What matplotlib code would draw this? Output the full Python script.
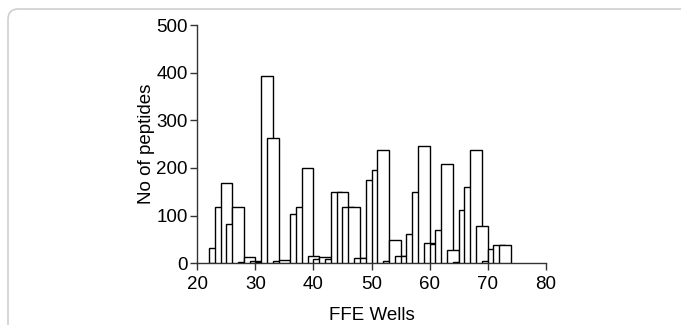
import matplotlib
matplotlib.use("Agg")
import matplotlib.pyplot as plt
from matplotlib.patches import FancyBboxPatch

# bar centre (well) and peptide count, drawn left to right so later bars overlap
wells = [23, 24, 25, 26, 27, 28, 29, 30, 31, 32, 33, 34, 35, 37, 38, 39, 40,
         41, 42, 43, 44, 45, 46, 47, 48, 49, 50, 51, 52, 53, 54, 55, 56, 57,
         58, 59, 60, 61, 62, 63, 64, 65, 66, 67, 68, 69, 70, 71, 72, 73]
counts = [33, 119, 169, 82, 119, 2, 14, 5, 3, 393, 263, 5, 7, 103, 119, 199, 16,
          10, 13, 8, 150, 150, 119, 119, 12, 12, 174, 195, 237, 4, 49, 16, 16, 62,
          150, 246, 42, 40, 70, 209, 28, 2, 111, 161, 237, 79, 4, 31, 38, 38]

x_ticks = [20, 30, 40, 50, 60, 70, 80]
y_ticks = [0, 100, 200, 300, 400, 500]

plt.rcParams['font.family'] = ['Liberation Sans', 'DejaVu Sans']

fig = plt.figure(figsize=(6.81, 3.25), dpi=100)

# light rounded frame around the figure
W, H = 681, 325
frame = FancyBboxPatch((8 / W, -0.2), 1.2, (H - 9) / H + 0.2,
                       boxstyle="round,pad=0,rounding_size=0.015",
                       transform=fig.transFigure, fill=False,
                       edgecolor="#d0d0d0", linewidth=1.2, mutation_aspect=W / H)
fig.patches.append(frame)

ax = fig.add_axes([197.3 / W, (H - 263.3) / H, 348.4 / W, 238.3 / H])

for i, (w, c) in enumerate(zip(wells, counts)):
    ax.bar(w, c, width=2, color="white", edgecolor="black", linewidth=1.0,
           zorder=2 + i)

ax.set_xlim(20, 80)
ax.set_ylim(0, 500)
ax.set_xticks(x_ticks)
ax.set_yticks(y_ticks)
ax.tick_params(direction="out", length=5, width=1, colors="#333333",
               labelsize=13.5, labelcolor="black", pad=2)
ax.tick_params(axis="x", pad=4)
for s in ["top", "right"]:
    ax.spines[s].set_visible(False)
for s in ["left", "bottom"]:
    ax.spines[s].set_color("#333333")
    ax.spines[s].set_linewidth(1)

ax.set_xlabel("FFE Wells", fontsize=13.5, labelpad=10)
ax.set_ylabel("No of peptides", fontsize=13.5, labelpad=1)

fig.savefig("out.png", dpi=100)
